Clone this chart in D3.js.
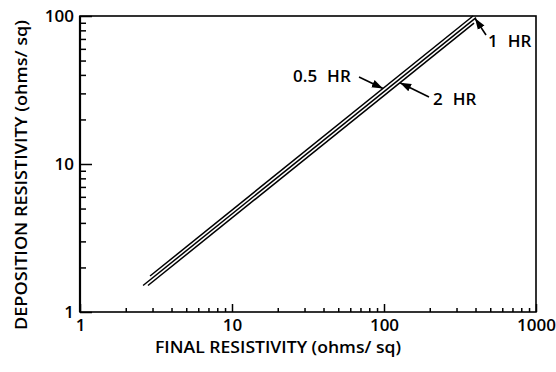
<!DOCTYPE html>
<html><head><meta charset="utf-8">
<script src="https://cdn.jsdelivr.net/npm/d3@7"></script>
<style>
html,body{margin:0;padding:0;background:#fff;}
text{font-family:"Open Sans","DejaVu Sans",sans-serif;font-weight:600;fill:#000;}
</style></head>
<body><svg id="c" width="556" height="372"></svg>
<script>
// ---- data ----
const seriesNames = ["0.5 HR", "1 HR", "2 HR"];
const finalRes = [[2.89, 385], [2.60, 403], [2.80, 391]];        // x (ohms/sq)
const depositionRes = [[1.75, 100], [1.51, 97.6], [1.51, 89.5]]; // y (ohms/sq)
const xTickLabels = ["1", "10", "100", "1000"];
const yTickLabels = ["1", "10", "100"];
const xMajor = [1, 10, 100, 1000];
const yMajor = [1, 10, 100];
// annotations: label anchor, arrow start, arrow tip x (tip lies on the series)
const annLabel = ["0.5 HR", "2 HR", "1 HR"];
const annSeries = [0, 2, 1];
const annTextX = [25.2, 210, 483];
const annTextY = [35.8, 25.0, 61.7];
const annStartX = [68.5, 197.7, 469];
const annStartY = [38.7, 28.4, 74.4];
const annTipX = [98.5, 127.4, 397];

// ---- layout ----
const svg = d3.select("#c");
const L = 80, R = 536, T = 16, B = 312;
const x = d3.scaleLog().domain([1, 1000]).range([L, R]);
const y = d3.scaleLog().domain([1, 100]).range([B, T]);
const FONT = '"Open Sans","DejaVu Sans",sans-serif';

const minorX = [];
[1, 10, 100].forEach(d => { for (let k = 2; k <= 9; k++) minorX.push(d * k); });
const minorY = [];
[1, 10].forEach(d => { for (let k = 2; k <= 9; k++) minorY.push(d * k); });

// minor ticks
svg.append("g").attr("transform", `translate(0,${B})`)
  .call(d3.axisBottom(x).tickValues(minorX).tickSize(-4).tickFormat(""))
  .call(g => g.select(".domain").remove())
  .selectAll("line").attr("stroke", "#000").attr("stroke-width", 1.5);
svg.append("g").attr("transform", `translate(${L},0)`)
  .call(d3.axisLeft(y).tickValues(minorY).tickSize(-6).tickFormat(""))
  .call(g => g.select(".domain").remove())
  .selectAll("line").attr("stroke", "#000").attr("stroke-width", 1.5);

// major ticks + labels
const xa = svg.append("g").attr("transform", `translate(0,${B})`)
  .call(d3.axisBottom(x).tickValues(xMajor).tickSize(-8).tickPadding(7)
    .tickFormat((d, i) => xTickLabels[i]));
xa.select(".domain").remove();
xa.selectAll("line").attr("stroke", "#000").attr("stroke-width", 1.5);
xa.selectAll("text").attr("font-size", 17).attr("fill", "#000")
  .style("font-family", FONT).style("font-weight", 600);

const ya = svg.append("g").attr("transform", `translate(${L},0)`)
  .call(d3.axisLeft(y).tickValues(yMajor).tickSize(-12).tickPadding(6)
    .tickFormat((d, i) => yTickLabels[i]));
ya.select(".domain").remove();
ya.selectAll("line").attr("stroke", "#000").attr("stroke-width", 1.5);
ya.selectAll("text").attr("font-size", 17).attr("fill", "#000")
  .style("font-family", FONT).style("font-weight", 600);

// frame
svg.append("rect").attr("x", L).attr("y", T).attr("width", R - L).attr("height", B - T)
  .attr("fill", "none").attr("stroke", "#000").attr("stroke-width", 1.6);
svg.append("line").attr("x1", L).attr("x2", L).attr("y1", T).attr("y2", B)
  .attr("stroke", "#000").attr("stroke-width", 2.2);

// series lines
const line = d3.line().x(d => x(d[0])).y(d => y(d[1]));
seriesNames.forEach((name, i) => {
  const pts = finalRes[i].map((v, j) => [v, depositionRes[i][j]]);
  svg.append("path").datum(pts).attr("d", line)
    .attr("fill", "none").attr("stroke", "#000").attr("stroke-width", 1.5);
});

// arrow marker
svg.append("defs").append("marker").attr("id", "ah")
  .attr("viewBox", "0 0 10 10").attr("refX", 10).attr("refY", 5)
  .attr("markerWidth", 7).attr("markerHeight", 7).attr("orient", "auto")
  .append("path").attr("d", "M0,1.5 L10,5 L0,8.5 Z").attr("fill", "#000");

function onSeries(si, xv) {
  const a = finalRes[si], b = depositionRes[si];
  const t = (Math.log(xv) - Math.log(a[0])) / (Math.log(a[1]) - Math.log(a[0]));
  return Math.exp(Math.log(b[0]) + t * (Math.log(b[1]) - Math.log(b[0])));
}

annLabel.forEach((lab, i) => {
  const parts = lab.split(" ");
  const t = svg.append("text").attr("x", x(annTextX[i])).attr("y", y(annTextY[i]))
    .attr("font-size", 17);
  t.append("tspan").text(parts[0]);
  t.append("tspan").attr("dx", 10).text(parts[1]);
  const tipY = onSeries(annSeries[i], annTipX[i]);
  svg.append("line").attr("x1", x(annStartX[i])).attr("y1", y(annStartY[i]))
    .attr("x2", x(annTipX[i])).attr("y2", y(tipY))
    .attr("stroke", "#000").attr("stroke-width", 1.6).attr("marker-end", "url(#ah)");
});

// axis titles
svg.append("text").attr("x", 278).attr("y", 353).attr("text-anchor", "middle")
  .attr("font-size", 17).attr("textLength", 246).attr("lengthAdjust", "spacingAndGlyphs")
  .text("FINAL RESISTIVITY (ohms/ sq)");
svg.append("text").attr("transform", "translate(27,175) rotate(-90)")
  .attr("text-anchor", "middle").attr("font-size", 17)
  .attr("textLength", 310).attr("lengthAdjust", "spacingAndGlyphs")
  .text("DEPOSITION RESISTIVITY (ohms/ sq)");
</script></body></html>
